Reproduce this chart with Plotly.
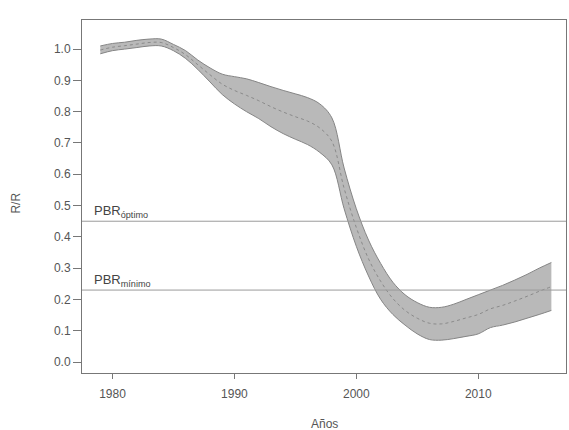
import plotly.graph_objects as go

years = list(range(1979, 2017))
upper = [1.010, 1.018, 1.022, 1.028, 1.032, 1.032, 1.015, 0.995, 0.965, 0.940,
         0.920, 0.912, 0.905, 0.893, 0.880, 0.868, 0.857, 0.845, 0.825, 0.780,
         0.620, 0.490, 0.390, 0.315, 0.255, 0.215, 0.190, 0.175, 0.175, 0.185,
         0.200, 0.215, 0.230, 0.245, 0.262, 0.280, 0.300, 0.318]
lower = [0.985, 0.995, 1.000, 1.005, 1.010, 1.010, 0.995, 0.970, 0.935, 0.895,
         0.855, 0.825, 0.800, 0.778, 0.752, 0.730, 0.712, 0.695, 0.670, 0.630,
         0.490, 0.370, 0.275, 0.200, 0.152, 0.118, 0.090, 0.072, 0.070, 0.075,
         0.082, 0.090, 0.110, 0.118, 0.128, 0.140, 0.152, 0.165]
median = [0.997, 1.006, 1.011, 1.016, 1.021, 1.021, 1.005, 0.982, 0.950, 0.918,
          0.888, 0.868, 0.852, 0.835, 0.816, 0.799, 0.784, 0.770, 0.748, 0.705,
          0.555, 0.430, 0.330, 0.258, 0.203, 0.165, 0.140, 0.124, 0.122, 0.130,
          0.141, 0.152, 0.170, 0.181, 0.195, 0.210, 0.226, 0.241]
pbr_values = [0.45, 0.23]
pbr_labels = ["PBR<sub>óptimo</sub>", "PBR<sub>mínimo</sub>"]
x_ticks = [1980, 1990, 2000, 2010]
y_ticks = [round(i * 0.1, 1) for i in range(11)]
x_title = "Años"
y_title = "R/R"

font = "Liberation Sans, Arial, sans-serif"
fig = go.Figure()
fig.add_trace(go.Scatter(x=years, y=lower, mode="lines",
                         line=dict(color="#858585", width=1, shape="spline"),
                         showlegend=False, hoverinfo="skip"))
fig.add_trace(go.Scatter(x=years, y=upper, mode="lines", fill="tonexty",
                         fillcolor="#b9b9b9",
                         line=dict(color="#858585", width=1, shape="spline"),
                         showlegend=False, hoverinfo="skip"))
fig.add_trace(go.Scatter(x=years, y=median, mode="lines",
                         line=dict(color="#8a8a8a", width=1, dash="dot", shape="spline"),
                         showlegend=False))

for v, lab in zip(pbr_values, pbr_labels):
    fig.add_hline(y=v, line=dict(color="#9a9a9a", width=1))
    fig.add_annotation(x=1978.3, y=v, xref="x", yref="y", text=lab,
                       showarrow=False, xanchor="left", yanchor="bottom",
                       yshift=-1, font=dict(family=font, size=13, color="#444"))

fig.add_annotation(x=0.5, y=0, xref="paper", yref="paper", text=x_title,
                   showarrow=False, xanchor="center", yanchor="middle",
                   yshift=-51, font=dict(family=font, size=12, color="#555"))
fig.add_annotation(x=0, y=0.48, xref="paper", yref="paper", text=y_title,
                   showarrow=False, xanchor="center", yanchor="middle",
                   xshift=-66, textangle=-90,
                   font=dict(family=font, size=12, color="#555"))

fig.update_layout(
    width=569, height=430,
    margin=dict(l=82, r=3, t=20, b=57),
    plot_bgcolor="white", paper_bgcolor="white",
    font=dict(family=font, size=12, color="#555"),
    xaxis=dict(range=[1977.5, 2017.2], tickvals=x_ticks, ticks="outside",
               ticklen=5, tickcolor="#777", showgrid=False, zeroline=False,
               showline=True, linecolor="#777", linewidth=1, mirror=True,
               automargin=False, ticklabelstandoff=5),
    yaxis=dict(range=[-0.035, 1.093], tickvals=y_ticks, tickformat=".1f",
               ticks="outside", ticklen=8, tickcolor="#777", showgrid=False,
               zeroline=False, showline=True, linecolor="#777", linewidth=1,
               mirror=True, automargin=False),
)
fig.write_html("out.html")
